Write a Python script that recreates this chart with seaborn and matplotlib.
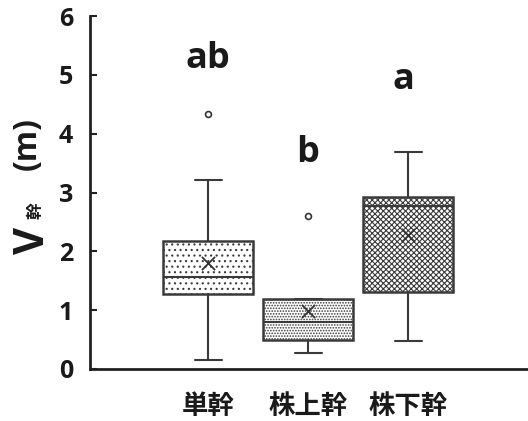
import matplotlib
matplotlib.use("Agg")
import matplotlib.pyplot as plt
import seaborn as sns
import pandas as pd

# ---- data ----
categories = ["単幹", "株上幹", "株下幹"]
whisker_low = [0.15, 0.27, 0.48]
q1_values = [1.28, 0.49, 1.31]
medians = [1.56, 0.80, 2.77]
q3_values = [2.18, 1.19, 2.93]
whisker_high = [3.22, 1.19, 3.69]
means = [1.80, 0.99, 2.28]
outliers = [[4.34], [2.60], []]
letters = ["ab", "b", "a"]
letter_y = [5.12, 3.52, 4.76]
y_ticks = [0, 1, 2, 3, 4, 5, 6]

sns.set_theme(style="ticks")
plt.rcParams["hatch.color"] = "#555555"
plt.rcParams["hatch.linewidth"] = 0.8

fig = plt.figure(figsize=(5.28, 4.21), dpi=100)
ax = fig.add_axes([90 / 528, 52 / 421, 437 / 528, 353 / 421])

stats = []
for i, c in enumerate(categories):
    stats.append(dict(label=c, whislo=whisker_low[i], q1=q1_values[i], med=medians[i],
                      q3=q3_values[i], whishi=whisker_high[i], fliers=[]))

edge = "#3a3a3a"
bp = ax.bxp(stats, positions=range(len(categories)), widths=0.9, patch_artist=True,
            showfliers=False, capwidths=0.27,
            boxprops=dict(edgecolor=edge, linewidth=1.8, facecolor="white"),
            medianprops=dict(color=edge, linewidth=1.5),
            whiskerprops=dict(color=edge, linewidth=1.5),
            capprops=dict(color=edge, linewidth=1.5))
hatches = ["...", "......", "xxxxxx"]
for patch, h in zip(bp["boxes"], hatches):
    patch.set_hatch(h)

df_mean = pd.DataFrame({"x": range(len(categories)), "y": means})
sns.scatterplot(data=df_mean, x="x", y="y", marker="x", s=90, color="#333333",
                linewidth=1.3, ax=ax, zorder=5)
fx, fy = [], []
for i, vals in enumerate(outliers):
    for v in vals:
        fx.append(i)
        fy.append(v)
sns.scatterplot(x=fx, y=fy, marker="o", s=18, facecolor="white", edgecolor="#333333",
                linewidth=1.2, ax=ax, zorder=5)

bold_font = ["Open Sans", "DejaVu Sans"]
cjk_font = ["Noto Sans CJK JP", "DejaVu Sans"]
letter_dx = [0.0, 0.0, -0.05]
for i, t in enumerate(letters):
    ax.text(i + letter_dx[i], letter_y[i], t, ha="center", va="baseline", fontsize=26,
            fontweight="bold", family=bold_font, color="#1a1a1a")

ax.set_xlim(-1.18, 3.19)
ax.set_ylim(0, 6)
ax.set_yticks(y_ticks)
ax.set_yticklabels([str(v) for v in y_ticks], fontsize=18, fontweight="bold",
                   family=bold_font, color="#1a1a1a")
ax.set_xticks(range(len(categories)))
ax.set_xticklabels(categories, fontsize=19, fontweight="bold", family=cjk_font,
                   color="#1a1a1a")
ax.tick_params(axis="x", length=0, pad=17)
ax.tick_params(axis="y", direction="in", length=5, width=1.5, color="#222222", pad=12)
for s in ["top", "right"]:
    ax.spines[s].set_visible(False)
for s in ["left", "bottom"]:
    ax.spines[s].set_linewidth(2)
    ax.spines[s].set_color("#222222")
ax.set_xlabel("")
ax.set_ylabel("")

fig.text(33 / 528, 1 - 240 / 421, "V", rotation=90, ha="center", va="center",
         fontsize=30, fontweight="bold", family=bold_font, color="#1a1a1a")
fig.text(36 / 528, 1 - 211 / 421, "幹", rotation=90, ha="center", va="center",
         fontsize=12, fontweight="bold", family=cjk_font, color="#1a1a1a")
fig.text(27 / 528, 1 - 144 / 421, "(m)", rotation=90, ha="center", va="center",
         fontsize=23, fontweight="bold", family=bold_font, color="#1a1a1a")

fig.savefig("out.png", dpi=100)
